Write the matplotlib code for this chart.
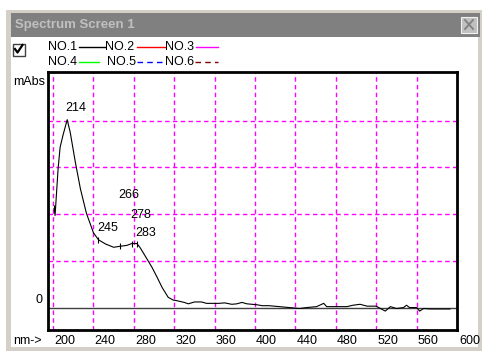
import numpy as np
import matplotlib
matplotlib.use("Agg")
import matplotlib.pyplot as plt
from matplotlib.patches import Rectangle
from matplotlib.lines import Line2D
from matplotlib.transforms import blended_transform_factory, offset_copy

plt.rcParams['lines.scale_dashes'] = False
FONT = 'Liberation Sans'

# ---------------- data ----------------
wavelength = [201, 202, 205, 207, 210, 214, 217, 222, 227, 233, 240, 245, 252, 260, 266, 273,
              278, 283, 286, 293, 298, 303, 308, 314, 319, 322, 330, 334, 340, 347, 352, 357,
              364, 370, 377, 382, 387, 392, 397, 402, 407, 414, 424, 434, 444, 451, 461, 468,
              471, 481, 491, 497, 504, 511, 520, 525, 529, 534, 540, 547, 550, 553, 560, 563,
              567, 573, 586, 593]
absorb = [2.12, 1.97, 2.97, 3.43, 3.7, 4.02, 3.75, 3.12, 2.55, 2.02, 1.6, 1.45, 1.36, 1.29, 1.31, 1.33,
          1.37, 1.37, 1.29, 1.04, 0.86, 0.65, 0.43, 0.22, 0.16, 0.15, 0.11, 0.08, 0.12, 0.12, 0.09, 0.09,
          0.09, 0.1, 0.07, 0.08, 0.11, 0.08, 0.07, 0.06, 0.04, 0.04, 0.02, 0.0, -0.02, 0.0, 0.02, 0.09,
          0.02, 0.02, 0.02, 0.05, 0.07, 0.03, 0.03, -0.03, -0.075, 0.02, -0.02, 0.0, 0.05, 0.0, 0.0,
          -0.075, -0.02, -0.03, -0.03, -0.03]
peak_nm = [214, 245, 266, 278, 283]
peak_label_rise = [12, 12, 51, 29, 11]   # label lift above curve (pixels)
tick_nm = [201, 245, 266, 278, 283]
xtick_values = [200, 240, 280, 320, 360, 400, 440, 480, 520, 560, 600]
grid_x = [200, 240, 280, 320, 360, 400, 440, 480, 520, 560]
grid_y = [1, 2, 3, 4]
legend_names = ["NO.1", "NO.2", "NO.3", "NO.4", "NO.5", "NO.6"]
legend_colors = ["#000000", "#ff0000", "#ff00ff", "#00ff00", "#0000ff", "#800000"]
legend_styles = ["-", "-", "-", "-", "--", "--"]

W, H = 482, 351
fig = plt.figure(figsize=(W / 100, H / 100), dpi=100)
fig.patch.set_facecolor('white')

def fx(x):
    return x / W

def fy(y):
    return 1 - y / H

# window chrome
fig.add_artist(Rectangle((fx(6), fy(351)), fx(476), (351 - 10) / H, facecolor='#d4d0c8',
                         edgecolor='none', transform=fig.transFigure, zorder=0))
fig.add_artist(Rectangle((fx(11), fy(347)), fx(467), (347 - 13) / H, facecolor='white',
                         edgecolor='none', transform=fig.transFigure, zorder=0))
fig.add_artist(Rectangle((fx(11), fy(37)), fx(469), 24 / H, facecolor='#808080',
                         edgecolor='none', transform=fig.transFigure, zorder=1))
fig.text(fx(15), fy(25), "Spectrum Screen 1", color='#c0c0c0', fontsize=9.5, fontweight='bold',
         family=FONT, va='center', ha='left')
# close button
fig.add_artist(Rectangle((fx(461), fy(33)), fx(16), 16 / H, facecolor='#c0c0c0',
                         edgecolor='#f0f0f0', linewidth=0.8, transform=fig.transFigure, zorder=2))
fig.add_artist(Line2D([fx(465), fx(473)], [fy(20), fy(29)], color='#808080', lw=1.3,
                      transform=fig.transFigure, zorder=3))
fig.add_artist(Line2D([fx(465), fx(473)], [fy(29), fy(20)], color='#808080', lw=1.3,
                      transform=fig.transFigure, zorder=3))
# checkbox
fig.add_artist(Rectangle((fx(12.5), fy(56)), fx(12), 12 / H, facecolor='white',
                         edgecolor='#404040', linewidth=1.0, transform=fig.transFigure, zorder=2))
fig.add_artist(Line2D([fx(15), fx(17.5), fx(22.5)], [fy(49), fy(52.5), fy(45)], color='black',
                      lw=1.6, transform=fig.transFigure, zorder=3))

# legend
leg_pos = [(48, 47, 79, 105), (105, 47, 137, 165), (165, 47, 196, 218),
           (48, 62, 79, 99), (107, 62, 137, 165), (165, 62, 195, 218)]
for name, col, ls, (tx, ty, l0, l1) in zip(legend_names, legend_colors, legend_styles, leg_pos):
    fig.text(fx(tx), fy(ty), name, fontsize=9, family=FONT, va='center', ha='left', color='black')
    if ls == '-':
        fig.add_artist(Line2D([fx(l0), fx(l1)], [fy(ty), fy(ty)], color=col, lw=1.0,
                              transform=fig.transFigure))
    else:
        fig.add_artist(Line2D([fx(l0), fx(l1)], [fy(ty), fy(ty)], color=col, lw=1.0,
                              dashes=(4, 3), transform=fig.transFigure))

# axes
ax = fig.add_axes([fx(48), fy(330), fx(409), 258 / H])
ax.set_xlim(195, 600)
ax.set_ylim(-0.48, 5.04)
ax.set_xticks([])
ax.set_yticks([])
for s in ax.spines.values():
    s.set_linewidth(2.0)
    s.set_color('black')

for gx in grid_x:
    ax.axvline(gx, color='#ff00ff', lw=1.0, dashes=(3.2, 2.4), zorder=1)
for gy in grid_y:
    ax.axhline(gy, color='#ff00ff', lw=1.0, dashes=(3.2, 2.4), zorder=1)
ax.axhline(0, color='#404040', lw=1.0, zorder=2)

ax.plot(wavelength, absorb, color='black', lw=0.8, zorder=3)
tick_y = np.interp(tick_nm, wavelength, absorb)
ax.plot(tick_nm, tick_y, linestyle='none', marker='|', markersize=5, color='black',
        markeredgewidth=0.8, zorder=4)

for nm, rise in zip(peak_nm, peak_label_rise):
    yv = np.interp(nm, wavelength, absorb)
    ax.annotate(str(nm), xy=(nm, yv), xytext=(-1, rise * 0.72), textcoords='offset points',
                fontsize=9, family=FONT, ha='left', va='center', zorder=5)

# tick labels
trans = blended_transform_factory(ax.transData, ax.transAxes)
for v in xtick_values:
    extra = 2 if v == 600 else 1
    t = offset_copy(trans, fig=fig, x=extra * 0.72, y=-11 * 0.72, units='points')
    ax.text(v, 0, str(v), transform=t, fontsize=9, family=FONT, ha='left', va='center',
            clip_on=False)
fig.text(fx(13), fy(341), "nm->", fontsize=9, family=FONT, ha='left', va='center')
fig.text(fx(13), fy(82), "mAbs", fontsize=9, family=FONT, ha='left', va='center')
ytrans = blended_transform_factory(ax.transAxes, ax.transData)
ax.text(0, 0, "0", transform=offset_copy(ytrans, fig=fig, x=-5 * 0.72, y=7.5 * 0.72, units='points'),
        fontsize=9, family=FONT, ha='right', va='center', clip_on=False)

fig.savefig("out.png", dpi=100)
